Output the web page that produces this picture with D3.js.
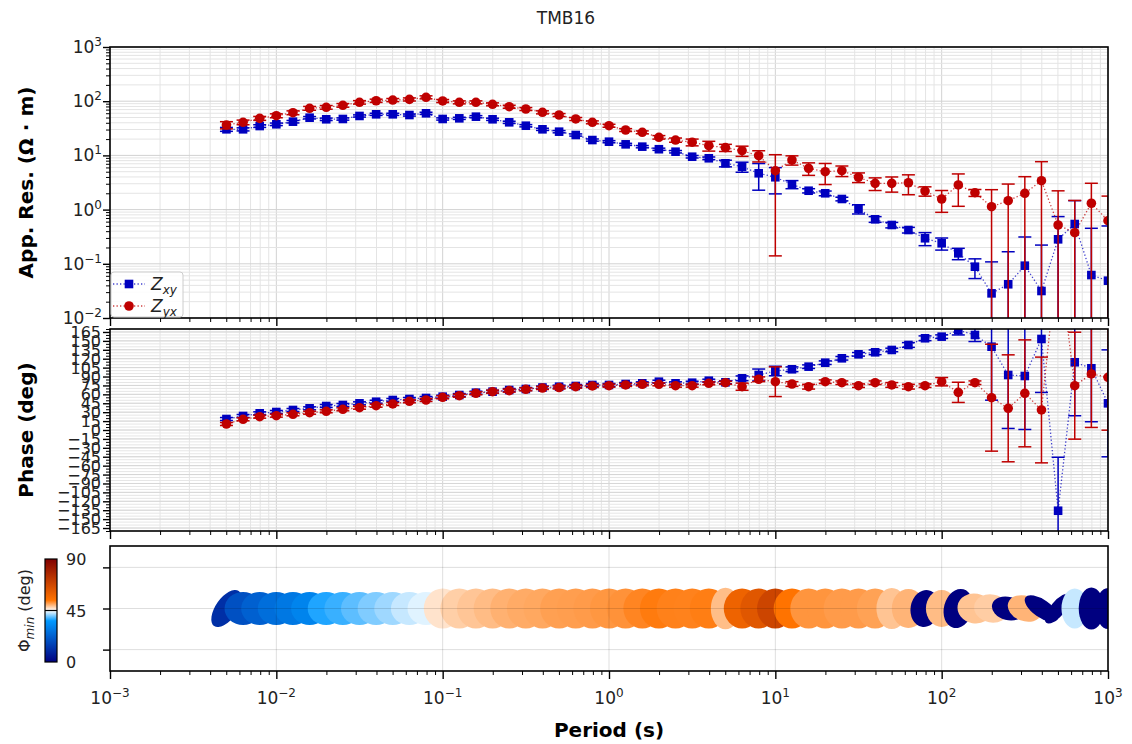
<!DOCTYPE html>
<html>
<head>
<meta charset="utf-8">
<script src="https://cdn.jsdelivr.net/npm/d3@7"></script>
<style>
  body { margin: 0; background: #fff; }
  svg { font-family: "DejaVu Sans", sans-serif; }
</style>
</head>
<body>
<svg id="chart" width="1132" height="744"></svg>
<script>
// periods (s)
const periods = [0.005012, 0.00631, 0.007943, 0.01, 0.01259, 0.01585, 0.01995, 0.02512, 0.03162, 0.03981,
  0.05012, 0.0631, 0.07943, 0.1, 0.1259, 0.1585, 0.1995, 0.2512, 0.3162, 0.3981,
  0.5012, 0.631, 0.7943, 1, 1.259, 1.585, 1.995, 2.512, 3.162, 3.981,
  5.012, 6.31, 7.943, 10, 12.59, 15.85, 19.95, 25.12, 31.62, 39.81,
  50.12, 63.1, 79.43, 100, 125.9, 158.5, 199.5, 251.2, 316.2, 398.1,
  501.2, 631, 794.3, 1000];

// apparent resistivity (ohm m) and errors
const resXY = [30.3, 30.3, 34.8, 37.5, 41.9, 49.6, 46.4, 47, 53.4, 57.3,
  57.3, 55.6, 59.8, 47, 48.3, 51.8, 46.4, 40.8, 35.3, 30.3,
  27.4, 23.8, 19.2, 17.9, 16.0, 14.5, 13.0, 11.7, 9.46, 8.85,
  7.15, 6.19, 4.68, 3.95, 2.93, 2.23, 2.0, 1.57, 1.03, 0.662,
  0.52, 0.42, 0.296, 0.239, 0.156, 0.0884, 0.0285, 0.0419, 0.0923, 0.0315,
  0.283, 0.542, 0.062, 0.0488];
const resXYErr = [2.5, 2.0, 2.0, 2.0, 2.2, 2.5, 2.4, 2.3, 2.5, 2.6,
  2.6, 2.5, 2.8, 2.2, 2.2, 2.4, 2.2, 1.9, 1.7, 1.4,
  1.3, 1.1, 0.9, 0.8, 0.7, 0.7, 0.6, 0.6, 0.5, 0.5,
  1.0, 1.3, 2.4, 2.0, 0.5, 0.2, 0.2, 0.12, 0.2, 0.08,
  0.06, 0.05, 0.08, 0.06, 0.037, 0.035, 0.08, 0.125, 0.22, 0.19,
  0.46, 0.92, 0.39, 0.45];
const resYX = [36.4, 40.8, 48.3, 54, 61.3, 74, 77.2, 84, 95.4, 102,
  105, 108, 118, 101, 95.4, 95.4, 87.7, 79.2, 71.8, 62.4,
  55.6, 47, 40.8, 35.3, 29.4, 26.7, 21.6, 19.2, 17.5, 15.1,
  13.9, 12.2, 9.87, 5.22, 8.22, 5.78, 5.0, 5.22, 3.95, 3.05,
  3.05, 3.13, 2.2, 1.57, 2.85, 2.05, 1.13, 1.46, 2.0, 3.41,
  0.52, 0.375, 1.31, 0.624];
const resYXErr = [5.5, 4.0, 4.0, 4.5, 5.0, 6.0, 6.0, 6.5, 7.0, 7.0,
  7.0, 7.0, 7.5, 6.5, 6.0, 6.0, 5.5, 5.0, 4.5, 4.0,
  3.5, 3.0, 2.5, 2.2, 1.8, 1.6, 1.6, 1.7, 2.5, 3.1,
  2.1, 2.6, 2.3, 5.08, 1.6, 1.5, 2.1, 1.15, 0.8, 0.8,
  0.95, 1.25, 0.43, 0.68, 1.7, 0.3, 1.2, 1.5, 2.05, 4.25,
  1.7, 1.1, 1.75, 1.15];

// phase (deg) and errors
const phaseXY = [18.5, 23.6, 28.1, 30.3, 33.7, 36.5, 40.4, 42.1, 44.9, 47.6,
  50.5, 52.2, 53.9, 56.1, 58.9, 62.8, 64.5, 67.3, 69, 71.5,
  72.9, 74.1, 75.8, 75.8, 77.4, 78.6, 81.3, 78.6, 79.6, 83,
  80.3, 87, 92.6, 99.3, 102.2, 106.6, 113.3, 120.7, 127.4, 130.8,
  134.7, 143.1, 154.4, 157.1, 168, 159.9, 140.2, 92.6, 90.9, 153.2,
  -135.9, 114, 103.9, 44.9];
const phaseXYErr = [2.5, 2.5, 2.5, 2.5, 2.5, 2.5, 2.5, 2.5, 2.5, 2.5,
  2.5, 2.5, 2.5, 2.5, 2.5, 2.5, 2.5, 2.5, 2.5, 2.5,
  2.5, 2.5, 2.5, 2.5, 2.5, 2.5, 2.5, 2.5, 2.5, 2.5,
  2.5, 4, 10, 8, 4, 3, 3, 3, 3, 4,
  3, 4, 4, 3, 8, 11, 90, 90, 90, 90,
  90, 90, 90, 90];
const phaseYX = [10.1, 18, 22.4, 24.1, 26.4, 29.1, 31.5, 34.8, 37.5, 40.9,
  43.8, 48.3, 50.5, 55, 57.7, 61.8, 64.5, 66.2, 68.5, 70.7,
  71.5, 72.9, 74.1, 74.6, 75.8, 76.9, 76.9, 74.6, 74.6, 78.6,
  79.6, 72.9, 85.4, 81.3, 77.4, 72.9, 81.3, 79.6, 74.6, 79.6,
  75.8, 72.9, 74.6, 81.3, 63.4, 79.6, 54.4, 36.5, 61.7, 33.7,
  300, 74.6, 94.3, 88.7];
const phaseYXErr = [2.5, 2.5, 2.5, 2.5, 2.5, 2.5, 2.5, 2.5, 2.5, 2.5,
  2.5, 2.5, 2.5, 2.5, 2.5, 2.5, 2.5, 2.5, 2.5, 2.5,
  2.5, 2.5, 2.5, 2.5, 2.5, 2.5, 2.5, 2.5, 2.5, 2.5,
  2.5, 6, 4, 25, 4, 4, 3, 3, 3, 3,
  4, 4, 3, 7, 17, 3, 90, 90, 90, 89,
  90, 90, 90, 89];

// phase tensor ellipses
const ptPhimin = [11, 18.8, 22.6, 25.9, 28.2, 31, 37.1, 38, 39.3, 40.5,
  41.6, 43, 43.9, 46.8, 48.1, 48.7, 49.3, 50, 50.4, 50.6,
  51.1, 51.2, 51.4, 51.7, 52, 52.8, 53.5, 53.1, 53, 53.3,
  49.2, 58.8, 62.8, 68.4, 54, 51.8, 51.8, 51.4, 51.4, 51,
  48.8, 49.8, -25, 49.3, -25, 48.8, 48.2, -20, 49.8, -15,
  -15, 43, -30, -30];
const ptSize = [1.1, 0.95, 0.95, 0.95, 0.95, 0.95, 0.95, 0.95, 0.95, 0.95,
  0.95, 0.95, 0.95, 1.02, 1.02, 1.02, 1.02, 1.02, 1.02, 1.02,
  1.02, 1.02, 1.02, 1.02, 1.02, 1.02, 1.02, 1.02, 1.02, 1.02,
  1.07, 1.02, 1.02, 1.02, 1.02, 1.02, 1.02, 1.02, 1.02, 1.02,
  1.05, 1.0, 0.95, 0.95, 1.02, 0.9, 0.9, 0.85, 0.9, 1.0,
  0.95, 1.03, 1.08, 1.05];
const ptAspect = [0.5, 0.89, 0.89, 0.89, 0.89, 0.89, 0.89, 0.89, 0.89, 0.89,
  0.89, 0.89, 0.89, 0.95, 0.95, 0.95, 0.95, 0.95, 0.95, 0.95,
  0.95, 0.95, 0.95, 0.95, 0.95, 0.95, 0.95, 0.95, 0.95, 0.95,
  0.7, 0.92, 0.92, 0.92, 0.92, 0.92, 0.92, 0.92, 0.92, 0.92,
  0.75, 0.85, 0.78, 0.85, 0.72, 0.85, 0.8, 0.7, 0.72, 0.45,
  0.4, 0.66, 0.6, 0.6];
const ptAzimuth = [55, 0, 0, 0, 0, 0, 0, 0, 0, 0,
  0, 0, 0, 90, 90, 90, 90, 90, 90, 90,
  90, 90, 90, 90, 90, 90, 90, 90, 90, 90,
  90, 90, 90, 90, 90, 90, 90, 90, 90, 90,
  90, 90, 80, 90, 75, -10, -10, -15, -20, -35,
  50, 90, 90, 90];

// ticks
const periodTicks = [1e-3, 1e-2, 1e-1, 1, 10, 100, 1000];
const periodExp = ["\u22123", "\u22122", "\u22121", "0", "1", "2", "3"];
const resTicks = [1e-2, 1e-1, 1, 10, 100, 1000];
const resExp = ["\u22122", "\u22121", "0", "1", "2", "3"];
const phaseTicks = [165, 150, 135, 120, 105, 90, 75, 60, 45, 30, 15, 0,
  -15, -30, -45, -60, -75, -90, -105, -120, -135, -150, -165];
const cbarTicks = [0, 45, 90];

const svg = d3.select("#chart");
const left = 110, right = 1108;
const resTop = 47, resBot = 318, phTop = 329, phBot = 531, ptTop = 546, ptBot = 671;
const blue = "#0000bf", red = "#bf0000";

const x = d3.scaleLog().domain([1e-3, 1e3]).range([left, right]);
const yRes = d3.scaleLog().domain([1e-2, 1e3]).range([resBot, resTop]);
const yPh = d3.scaleLinear().domain([-170, 170]).range([phBot, phTop]);
const yPt = d3.scaleLinear().domain([-1.52, 1.52]).range([ptBot, ptTop]);
const rScale = d3.scaleLinear().domain([0, 1]).range([0, 19.5]);

const xMinor = x.ticks().filter(v => !periodTicks.some(t => Math.abs(t - v) / v < 1e-6));
const resMinor = yRes.ticks().filter(v => !resTicks.some(t => Math.abs(t - v) / v < 1e-6));
const phMinor = d3.range(-170, 171, 5);

// colormap (blue - white - orange)
const cmapStops = [[0, [0, 0, 0.5]], [0.4, [0, 0.6, 1]], [0.5, [1, 1, 1]], [0.6, [1, 0.45, 0]], [1, [0.5, 0, 0]]];
function cmap(t) {
  t = Math.max(0, Math.min(1, t));
  for (let k = 1; k < cmapStops.length; k++) {
    if (t <= cmapStops[k][0]) {
      const [t0, c0] = cmapStops[k - 1], [t1, c1] = cmapStops[k];
      const f = (t - t0) / (t1 - t0);
      return d3.rgb(...c0.map((c, j) => 255 * (c + (c1[j] - c) * f))).formatHex();
    }
  }
  return "#800000";
}
const phiColor = d3.scaleLinear().domain([0, 90]).range([0, 1]).clamp(true);

const defs = svg.append("defs");
[["clipRes", resTop, resBot], ["clipPh", phTop, phBot], ["clipPt", ptTop, ptBot]].forEach(([id, t, b]) => {
  defs.append("clipPath").attr("id", id).append("rect")
    .attr("x", left).attr("y", t).attr("width", right - left).attr("height", b - t);
});

// title
svg.append("text").attr("x", 566).attr("y", 24).attr("text-anchor", "middle")
  .attr("font-size", 17).attr("fill", "#222").text("TMB16");

// grids
function vGrid(vals, t, b, col, w) {
  svg.append("g").selectAll("line").data(vals).enter().append("line")
    .attr("x1", d => x(d)).attr("x2", d => x(d)).attr("y1", t).attr("y2", b)
    .attr("stroke", col).attr("stroke-width", w);
}
function hGrid(scale, vals, col, w) {
  svg.append("g").selectAll("line").data(vals).enter().append("line")
    .attr("x1", left).attr("x2", right).attr("y1", d => scale(d)).attr("y2", d => scale(d))
    .attr("stroke", col).attr("stroke-width", w);
}
vGrid(xMinor, resTop, resBot, "#e4e4e4", 1);
vGrid(periodTicks, resTop, resBot, "#d2d2d2", 1);
hGrid(yRes, resMinor, "#e4e4e4", 1);
hGrid(yRes, resTicks, "#d2d2d2", 1);
vGrid(xMinor, phTop, phBot, "#e4e4e4", 1);
vGrid(periodTicks, phTop, phBot, "#d2d2d2", 1);
hGrid(yPh, phMinor, "#e6e6e6", 1);
hGrid(yPh, phaseTicks, "#d6d6d6", 1);

// series with error bars
function drawSeries(yScale, clip, vals, errs, color, shape, bottom) {
  const g = svg.append("g").attr("clip-path", `url(#${clip})`);
  const pts = periods.map((p, i) => ({ p, v: vals[i], e: errs[i] }));
  const isLog = typeof yScale.base === "function";
  const lowY = d => (isLog && d.v - d.e <= 0) ? bottom + 40 : yScale(d.v - d.e);
  const eb = g.append("g").selectAll("g").data(pts).enter().append("g")
    .attr("stroke", color).attr("stroke-width", 1.5);
  eb.append("line").attr("x1", d => x(d.p)).attr("x2", d => x(d.p))
    .attr("y1", d => yScale(d.v + d.e)).attr("y2", lowY);
  eb.append("line").attr("x1", d => x(d.p) - 6.5).attr("x2", d => x(d.p) + 6.5)
    .attr("y1", d => yScale(d.v + d.e)).attr("y2", d => yScale(d.v + d.e));
  eb.filter(d => !(isLog && d.v - d.e <= 0)).append("line")
    .attr("x1", d => x(d.p) - 6.5).attr("x2", d => x(d.p) + 6.5)
    .attr("y1", lowY).attr("y2", lowY);
  g.append("path").datum(pts)
    .attr("d", d3.line().x(d => x(d.p)).y(d => yScale(d.v)))
    .attr("fill", "none").attr("stroke", color).attr("stroke-opacity", 0.75)
    .attr("stroke-width", 1.3).attr("stroke-dasharray", "1.3,2.2");
  if (shape === "square") {
    g.append("g").selectAll("rect").data(pts).enter().append("rect")
      .attr("x", d => x(d.p) - 4.3).attr("y", d => yScale(d.v) - 4.3)
      .attr("width", 8.6).attr("height", 8.6).attr("fill", color);
  } else {
    g.append("g").selectAll("circle").data(pts).enter().append("circle")
      .attr("cx", d => x(d.p)).attr("cy", d => yScale(d.v)).attr("r", 4.8).attr("fill", color);
  }
}
drawSeries(yRes, "clipRes", resXY, resXYErr, blue, "square", resBot);
drawSeries(yRes, "clipRes", resYX, resYXErr, red, "circle", resBot);
drawSeries(yPh, "clipPh", phaseXY, phaseXYErr, blue, "square", phBot);
drawSeries(yPh, "clipPh", phaseYX, phaseYXErr, red, "circle", phBot);

// phase tensor ellipses
const ptG = svg.append("g").attr("clip-path", "url(#clipPt)");
ptG.selectAll("ellipse").data(periods).enter().append("ellipse")
  .attr("transform", (p, i) => `translate(${x(p)},${yPt(0)}) rotate(${-ptAzimuth[i]})`)
  .attr("rx", (p, i) => rScale(ptSize[i]))
  .attr("ry", (p, i) => rScale(ptSize[i] * ptAspect[i]))
  .attr("fill", (p, i) => cmap(phiColor(ptPhimin[i])));
vGrid(periodTicks.slice(1, -1), ptTop, ptBot, "rgba(0,0,0,0.13)", 1);
hGrid(yPt, [-1, 0, 1], "rgba(0,0,0,0.13)", 1);

// frames
[[resTop, resBot], [phTop, phBot], [ptTop, ptBot]].forEach(([t, b]) => {
  svg.append("rect").attr("x", left).attr("y", t).attr("width", right - left).attr("height", b - t)
    .attr("fill", "none").attr("stroke", "#000").attr("stroke-width", 1.6);
});

// axes ticks
function xTicks(yPos) {
  svg.append("g").attr("transform", `translate(0,${yPos})`)
    .call(d3.axisBottom(x).tickValues(periodTicks).tickSize(8).tickFormat(""))
    .call(g => g.select(".domain").remove())
    .call(g => g.selectAll("line").attr("stroke-width", 1.4));
  svg.append("g").attr("transform", `translate(0,${yPos})`)
    .call(d3.axisBottom(x).tickValues(xMinor).tickSize(4).tickFormat(""))
    .call(g => g.select(".domain").remove())
    .call(g => g.selectAll("line").attr("stroke-width", 1));
}
xTicks(resBot); xTicks(phBot); xTicks(ptBot);

function yTicks(scale, major, minor) {
  svg.append("g").attr("transform", `translate(${left},0)`)
    .call(d3.axisLeft(scale).tickValues(major).tickSize(7).tickFormat(""))
    .call(g => g.select(".domain").remove())
    .call(g => g.selectAll("line").attr("stroke-width", 1.4));
  if (minor.length) svg.append("g").attr("transform", `translate(${left},0)`)
    .call(d3.axisLeft(scale).tickValues(minor).tickSize(4).tickFormat(""))
    .call(g => g.select(".domain").remove())
    .call(g => g.selectAll("line").attr("stroke-width", 1));
}
yTicks(yRes, resTicks, resMinor);
yTicks(yPh, phaseTicks, phMinor.filter(v => v % 15 !== 0));
yTicks(yPt, [-1, 0, 1], []);

// tick labels
function powLabel(sel, exp) {
  sel.append("tspan").text("10");
  sel.append("tspan").attr("dy", -7).attr("font-size", 12).text(exp);
}
resTicks.forEach((v, i) => {
  const t = svg.append("text").attr("x", 102).attr("y", yRes(v) + 6)
    .attr("text-anchor", "end").attr("font-size", 17).attr("fill", "#222");
  powLabel(t, resExp[i]);
});
periodTicks.forEach((v, i) => {
  const t = svg.append("text").attr("x", x(v)).attr("y", 704)
    .attr("text-anchor", "middle").attr("font-size", 17).attr("fill", "#222");
  powLabel(t, periodExp[i]);
});
svg.append("g").selectAll("text").data(phaseTicks).enter().append("text")
  .attr("x", 101).attr("y", d => yPh(d) + 6).attr("text-anchor", "end")
  .attr("font-size", 16).attr("fill", "#222")
  .text(d => d < 0 ? "\u2212" + Math.abs(d) : d);

// axis titles
svg.append("text").attr("transform", `translate(33,${(resTop + resBot) / 2}) rotate(-90)`)
  .attr("text-anchor", "middle").attr("font-size", 20).attr("font-weight", "bold")
  .text("App. Res. (\u03A9 \u00B7 m)");
svg.append("text").attr("transform", `translate(33,${(phTop + phBot) / 2}) rotate(-90)`)
  .attr("text-anchor", "middle").attr("font-size", 20).attr("font-weight", "bold")
  .text("Phase (deg)");
svg.append("text").attr("x", x(1)).attr("y", 737).attr("text-anchor", "middle")
  .attr("font-size", 20).attr("font-weight", "bold").text("Period (s)");

// legend
const leg = svg.append("g");
leg.append("rect").attr("x", 111).attr("y", 272).attr("width", 72).attr("height", 45).attr("rx", 3)
  .attr("fill", "#fff").attr("fill-opacity", 0.85).attr("stroke", "#ccc");
[[blue, "square", "xy", 284], [red, "circle", "yx", 306]].forEach(([c, s, sub, yy]) => {
  leg.append("line").attr("x1", 113).attr("x2", 145).attr("y1", yy).attr("y2", yy)
    .attr("stroke", c).attr("stroke-opacity", 0.75).attr("stroke-width", 1.3).attr("stroke-dasharray", "1.3,2.2");
  if (s === "square") leg.append("rect").attr("x", 124.7).attr("y", yy - 4.3).attr("width", 8.6).attr("height", 8.6).attr("fill", c);
  else leg.append("circle").attr("cx", 129).attr("cy", yy).attr("r", 4.8).attr("fill", c);
  const t = leg.append("text").attr("x", 151).attr("y", yy + 6).attr("font-size", 17)
    .attr("font-style", "italic").attr("fill", "#222");
  t.append("tspan").text("Z");
  t.append("tspan").attr("dy", 4).attr("font-size", 12).text(sub);
});

// colorbar
const cbX = 45, cbW = 12, cbTop = 559, cbBot = 662;
const yCb = d3.scaleLinear().domain([0, 90]).range([cbBot, cbTop]);
const grad = defs.append("linearGradient").attr("id", "cbGrad")
  .attr("x1", 0).attr("x2", 0).attr("y1", 1).attr("y2", 0);
cmapStops.forEach(([t, c]) => grad.append("stop").attr("offset", t)
  .attr("stop-color", d3.rgb(c[0] * 255, c[1] * 255, c[2] * 255).formatHex()));
svg.append("rect").attr("x", cbX).attr("y", cbTop).attr("width", cbW).attr("height", cbBot - cbTop)
  .attr("fill", "url(#cbGrad)").attr("stroke", "#000").attr("stroke-width", 1.2);
svg.append("line").attr("x1", cbX).attr("x2", cbX + cbW).attr("y1", yCb(45)).attr("y2", yCb(45))
  .attr("stroke", "#000").attr("stroke-width", 1.2);
svg.append("g").selectAll("text").data(cbarTicks).enter().append("text")
  .attr("x", 66).attr("y", d => yCb(d) + 6).attr("font-size", 16).attr("fill", "#222").text(d => d);
const cbl = svg.append("text").attr("transform", `translate(30,${(cbTop + cbBot) / 2}) rotate(-90)`)
  .attr("text-anchor", "middle").attr("font-size", 16).attr("fill", "#222");
cbl.append("tspan").text("\u03A6");
cbl.append("tspan").attr("dy", 4).attr("font-size", 12).attr("font-style", "italic").text("min");
cbl.append("tspan").attr("dy", -4).text(" (deg)");
</script>
</body>
</html>
